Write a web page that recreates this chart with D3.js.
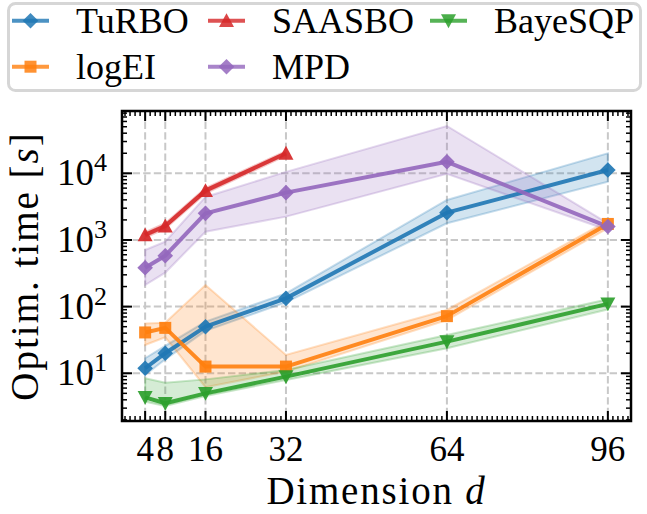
<!DOCTYPE html>
<html><head><meta charset="utf-8">
<script src="https://cdn.jsdelivr.net/npm/d3@7"></script>
<style>html,body{margin:0;padding:0;background:#fff}svg{display:block}</style>
</head><body>
<svg id="c" width="647" height="514"></svg>
<script>
// ---- data ----
const dims = [4, 8, 16, 32, 64, 96];
const saasboDims = [4, 8, 16, 32];
const xTicks = [4, 8, 16, 32, 64, 96];
const yTicks = [10, 100, 1000, 10000];
const yTickExp = ["1", "2", "3", "4"];

const turboMean = [11.9, 20, 50, 133, 2570, 11200];
const turboLo   = [9.4, 16.2, 43.2, 116, 1780, 7500];
const turboHi   = [16.8, 25.7, 59.6, 158, 3980, 20000];

const logeiMean = [41, 48, 12.6, 12.6, 72, 1740];
const logeiLo   = [26.6, 34.7, 6.2, 10.6, 63, 1500];
const logeiHi   = [56, 57.5, 211, 18.8, 89, 1950];

const saasboMean = [1190, 1620, 5500, 20000];
const saasboLo   = [1080, 1480, 5000, 18500];
const saasboHi   = [1310, 1780, 6000, 21500];

const mpdMean = [384, 580, 2510, 5130, 14900, 1590];
const mpdLo   = [211, 324, 1330, 2240, 9800, 1410];
const mpdHi   = [708, 942, 4420, 10500, 51300, 1780];

const bayesMean = [4.36, 3.55, 5.0, 8.9, 29.8, 110];
const bayesLo   = [3.76, 3.24, 4.57, 7.94, 23.7, 91];
const bayesHi   = [8.4, 7.2, 8.1, 11.2, 37.6, 129];

const names  = ["TuRBO", "logEI", "SAASBO", "MPD", "BayeSQP"];
const colors = ["#1f77b4", "#ff7f0e", "#d62728", "#9467bd", "#2ca02c"];
const markers = ["diamond", "square", "triUp", "diamond", "triDown"];

const series = [
  {name: names[0], x: dims, m: turboMean, lo: turboLo, hi: turboHi},
  {name: names[1], x: dims, m: logeiMean, lo: logeiLo, hi: logeiHi},
  {name: names[2], x: saasboDims, m: saasboMean, lo: saasboLo, hi: saasboHi},
  {name: names[3], x: dims, m: mpdMean, lo: mpdLo, hi: mpdHi},
  {name: names[4], x: dims, m: bayesMean, lo: bayesLo, hi: bayesHi}
];
series.forEach((s, i) => { s.color = colors[i]; s.marker = markers[i]; });

// ---- layout ----
const L = 122, R = 631, T = 111, B = 421;
const svg = d3.select("#c");
const FONT = "Liberation Serif";

const x = d3.scaleLinear().domain([-0.6, 100.6]).range([L, R]);
const y = d3.scaleLog().domain([Math.pow(10, 0.284), Math.pow(10, 4.935)]).range([B, T]);

// grid
const grid = svg.append("g");
xTicks.forEach(t => grid.append("line").attr("x1", x(t)).attr("x2", x(t)).attr("y1", T).attr("y2", B)
  .attr("stroke", "#c8c8c8").attr("stroke-width", 2).attr("stroke-dasharray", "7.4,3.2"));
yTicks.forEach(t => grid.append("line").attr("x1", L).attr("x2", R).attr("y1", y(t)).attr("y2", y(t))
  .attr("stroke", "#c8c8c8").attr("stroke-width", 2).attr("stroke-dasharray", "7.4,3.2"));

// clip
svg.append("clipPath").attr("id", "pc").append("rect").attr("x", L).attr("y", T).attr("width", R - L).attr("height", B - T);
const plot = svg.append("g").attr("clip-path", "url(#pc)");

function markerPath(type, s) {
  if (type === "diamond") return `M0,${-s}L${s},0L0,${s}L${-s},0Z`;
  if (type === "square") return `M${-s*0.8},${-s*0.8}H${s*0.8}V${s*0.8}H${-s*0.8}Z`;
  if (type === "triUp") return `M0,${-s}L${s},${s*0.85}L${-s},${s*0.85}Z`;
  if (type === "triDown") return `M0,${s}L${s},${-s*0.85}L${-s},${-s*0.85}Z`;
}
const mSize = {diamond: 7.8, square: 7.5, triUp: 7.5, triDown: 7.5};

const area = d3.area().x(d => x(d[0])).y0(d => y(d[1])).y1(d => y(d[2]));
const lineG = d3.line().x(d => x(d[0])).y(d => y(d[1]));
series.forEach(s => {
  const pts = s.x.map((v, i) => [v, s.lo[i], s.hi[i]]);
  plot.append("path").attr("d", area(pts)).attr("fill", s.color).attr("fill-opacity", 0.2)
    .attr("stroke", s.color).attr("stroke-opacity", 0.25).attr("stroke-width", 2);
});
series.forEach(s => {
  const pts = s.x.map((v, i) => [v, s.m[i]]);
  plot.append("path").attr("d", lineG(pts)).attr("fill", "none").attr("stroke", s.color)
    .attr("stroke-width", 4).attr("stroke-opacity", 0.9).attr("stroke-linejoin", "round");
  pts.forEach(p => svg.append("path").attr("d", markerPath(s.marker, mSize[s.marker]))
    .attr("transform", `translate(${x(p[0])},${y(p[1])})`).attr("fill", s.color).attr("fill-opacity", 0.92));
});

// ticks
const tk = svg.append("g").attr("stroke", "#000");
for (let v = 0; v <= 100; v++) {
  if (xTicks.includes(v)) continue;
  tk.append("line").attr("x1", x(v)).attr("x2", x(v)).attr("y1", B).attr("y2", B - 5).attr("stroke-width", 1.5);
  tk.append("line").attr("x1", x(v)).attr("x2", x(v)).attr("y1", T).attr("y2", T + 5).attr("stroke-width", 1.5);
}
xTicks.forEach(v => {
  tk.append("line").attr("x1", x(v)).attr("x2", x(v)).attr("y1", B).attr("y2", B - 10).attr("stroke-width", 2);
  tk.append("line").attr("x1", x(v)).attr("x2", x(v)).attr("y1", T).attr("y2", T + 10).attr("stroke-width", 2);
});
const [ymin, ymax] = y.domain();
for (let e = 0; e <= 5; e++) {
  for (let k = 1; k <= 9; k++) {
    const v = k * Math.pow(10, e);
    if (v < ymin || v > ymax) continue;
    const major = k === 1;
    const len = major ? 10 : 5;
    tk.append("line").attr("x1", L).attr("x2", L + len).attr("y1", y(v)).attr("y2", y(v)).attr("stroke-width", major ? 2 : 1.5);
    tk.append("line").attr("x1", R).attr("x2", R - len).attr("y1", y(v)).attr("y2", y(v)).attr("stroke-width", major ? 2 : 1.5);
  }
}

svg.append("rect").attr("x", L).attr("y", T).attr("width", R - L).attr("height", B - T)
  .attr("fill", "none").attr("stroke", "#000").attr("stroke-width", 2.5);

// tick labels
xTicks.forEach(v => svg.append("text").attr("x", x(v)).attr("y", 461).attr("text-anchor", "middle")
  .attr("font-family", FONT).attr("font-size", 35).text(v));
yTicks.forEach((v, i) => {
  const t = svg.append("text").attr("x", 107).attr("y", y(v) + 12).attr("text-anchor", "end")
    .attr("font-family", FONT).attr("font-size", 37);
  t.append("tspan").text("10");
  t.append("tspan").attr("dy", -14).attr("font-size", 26).text(yTickExp[i]);
});

// axis labels
const xl = svg.append("text").attr("x", (L + R) / 2).attr("y", 504).attr("text-anchor", "middle")
  .attr("font-family", FONT).attr("font-size", 39).attr("letter-spacing", 1.8);
xl.append("tspan").text("Dimension ");
xl.append("tspan").attr("font-style", "italic").text("d");
const yl = svg.append("text").attr("transform", `translate(38,${(T + B) / 2}) rotate(-90)`).attr("text-anchor", "middle")
  .attr("font-family", FONT).attr("font-size", 39).attr("letter-spacing", 2);
yl.append("tspan").text("Optim. time [");
yl.append("tspan").attr("font-style", "italic").text("s");
yl.append("tspan").text("]");

// legend
const lg = svg.append("g");
lg.append("rect").attr("x", 8.5).attr("y", 3.5).attr("width", 632).attr("height", 87).attr("rx", 7)
  .attr("fill", "#fff").attr("fill-opacity", 0.85).attr("stroke", "#d6d6d6").attr("stroke-width", 3);
const colX = [12, 208, 430], rowY = [20.7, 66.7];
series.forEach((s, j) => {
  const cx = colX[Math.floor(j / 2)], cy = rowY[j % 2];
  lg.append("line").attr("x1", cx).attr("x2", cx + 37).attr("y1", cy).attr("y2", cy)
    .attr("stroke", s.color).attr("stroke-width", 4).attr("stroke-opacity", 0.8);
  lg.append("path").attr("d", markerPath(s.marker, mSize[s.marker])).attr("transform", `translate(${cx + 18.5},${cy})`)
    .attr("fill", s.color).attr("fill-opacity", 0.85);
  lg.append("text").attr("x", cx + 64).attr("y", cy + 12.6).attr("font-family", FONT).attr("font-size", 36).text(s.name);
});
</script>
</body></html>
